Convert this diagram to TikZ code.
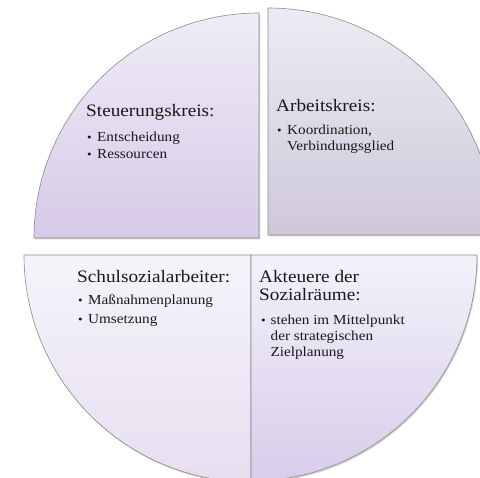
\documentclass[tikz,border=0pt]{standalone}
\usepackage{fontspec}
\setmainfont[FakeStretch=1.1]{Liberation Serif}
\begin{document}
\begin{tikzpicture}[x=1pt,y=1pt,
  wedge/.style={draw=black!45,line width=0.6pt},
  shadowfill/.style={fill=black,opacity=0.18,draw=none},
  ttl/.style={anchor=base west,inner sep=0pt,font=\fontsize{17.5}{17.7}\selectfont,text=black!90},
  itm/.style={anchor=base west,inner sep=0pt,font=\fontsize{13.8}{15.8}\selectfont,text=black!90},
  bul/.style={anchor=base west,inner sep=0pt,font=\fontsize{12}{14}\selectfont,text=black!90}]
\definecolor{tlA}{HTML}{EFECF6}\definecolor{tlB}{HTML}{D6CAE8}
\definecolor{trA}{HTML}{EDEBF2}\definecolor{trB}{HTML}{CEC8DA}
\definecolor{blA}{HTML}{F5F4FA}\definecolor{blB}{HTML}{E6DEF0}
\definecolor{brA}{HTML}{F3F2F9}\definecolor{brB}{HTML}{D7CCEB}
\useasboundingbox (0,0) rectangle (480,478);
\clip (0,0) rectangle (480,478);
% shadows
\fill[shadowfill] (260,238.5) -- ++(0,225) arc[start angle=90,end angle=180,radius=225] -- cycle;
\fill[shadowfill] (269,241.5) -- ++(227,0) arc[start angle=0,end angle=90,radius=227] -- cycle;
\fill[shadowfill] (252,221.5) -- ++(-227,0) arc[start angle=180,end angle=270,radius=227] -- cycle;
\fill[shadowfill] (252,221.5) -- ++(0,-226) arc[start angle=270,end angle=360,radius=226] -- cycle;
% wedges
\path[wedge,top color=tlA,bottom color=tlB] (259,240) coordinate (ctl) -- ++(0,225) arc[start angle=90,end angle=180,radius=225] -- cycle;
\path[wedge,top color=trA,bottom color=trB] (268,243) coordinate (ctr) -- ++(227,0) arc[start angle=0,end angle=90,radius=227] -- cycle;
\path[wedge,top color=blA,bottom color=blB] (251,223) coordinate (cbl) -- ++(-227,0) arc[start angle=180,end angle=270,radius=227] -- cycle;
\path[wedge,top color=brA,bottom color=brB] (251,223) coordinate (cbr) -- ++(0,-226) arc[start angle=270,end angle=360,radius=226] -- cycle;
% top-left text
\node[ttl] (t1) at (86,361) {Steuerungskreis:};
\node[bul] (b11) at (87,336.3) {\textbullet};
\node[itm] (i11) at (97,336.3) {Entscheidung};
\node[bul] (b12) at (87,319) {\textbullet};
\node[itm] (i12) at (97,319) {Ressourcen};
% top-right text
\node[ttl] (t2) at (276,366.5) {Arbeitskreis:};
\node[bul] (b21) at (277,343) {\textbullet};
\node[itm] (i21) at (287,343) {Koordination,};
\node[itm] (i22) at (287,327.3) {Verbindungsglied};
% bottom-left text
\node[ttl] (t3) at (77,195.5) {Schulsozialarbeiter:};
\node[bul] (b31) at (78,173.3) {\textbullet};
\node[itm] (i31) at (88,173.3) {Maßnahmenplanung};
\node[bul] (b32) at (78,154) {\textbullet};
\node[itm] (i32) at (88,154) {Umsetzung};
% bottom-right text
\node[ttl] (t4) at (259,195) {Akteuere der};
\node[ttl] (t4b) at (259,177.3) {Sozialräume:};
\node[bul] (b41) at (261,153) {\textbullet};
\node[itm] (i41) at (270.5,153) {stehen im Mittelpunkt};
\node[itm] (i42) at (270.5,137.2) {der strategischen};
\node[itm] (i43) at (270.5,121.6) {Zielplanung};
\end{tikzpicture}
\end{document}
